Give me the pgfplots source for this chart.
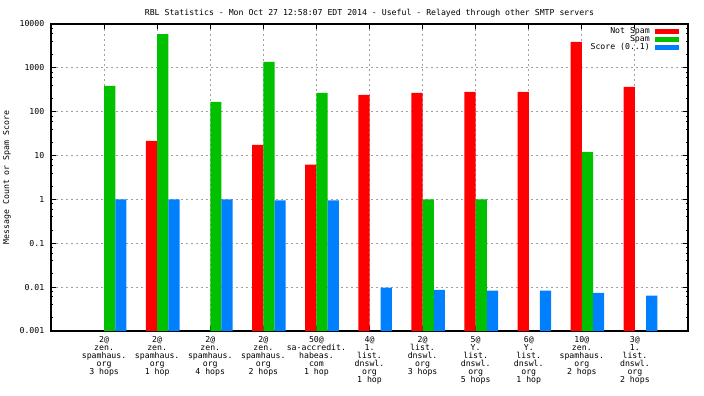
\documentclass[border=0pt]{standalone}
\usepackage{pgfplots}
\pgfplotsset{compat=1.18}
\usepackage{fontspec}
\setmainfont{DejaVu Sans Mono}
\definecolor{nsred}{HTML}{FF0000}
\definecolor{spgreen}{HTML}{00C000}
\definecolor{scblue}{HTML}{0080FF}
\definecolor{gridgray}{HTML}{A0A0A0}
\newcommand{\gfont}{\fontsize{8.2pt}{8pt}\selectfont}
\begin{document}
\begin{tikzpicture}[x=1pt,y=1pt]
\path[use as bounding box] (0,0) rectangle (704,396);
\begin{axis}[
  at={(51pt,65pt)}, anchor=south west, scale only axis,
  width=637pt, height=307pt,
  ymode=log, log origin=infty,
  ymin=0.001, ymax=10000, xmin=-1, xmax=11,
  xtick={0,1,2,3,4,5,6,7,8,9,10},
  xticklabels={
    {2@\\zen.\\spamhaus.\\org\\3 hops},
    {2@\\zen.\\spamhaus.\\org\\1 hop},
    {2@\\zen.\\spamhaus.\\org\\4 hops},
    {2@\\zen.\\spamhaus.\\org\\2 hops},
    {50@\\sa-accredit.\\habeas.\\com\\1 hop},
    {4@\\1.\\list.\\dnswl.\\org\\1 hop},
    {2@\\list.\\dnswl.\\org\\3 hops},
    {5@\\Y.\\list.\\dnswl.\\org\\5 hops},
    {6@\\Y.\\list.\\dnswl.\\org\\1 hop},
    {10@\\zen.\\spamhaus.\\org\\2 hops},
    {3@\\1.\\list.\\dnswl.\\org\\2 hops}},
  ytick={0.001,0.01,0.1,1,10,100,1000,10000},
  yticklabels={0.001,0.01,0.1,1,10,100,1000,10000},
  minor ytick={0.002,0.004,0.006,0.008,0.02,0.04,0.06,0.08,0.2,0.4,0.6,0.8,2,4,6,8,20,40,60,80,200,400,600,800,2000,4000,6000,8000},
  grid=major,
  major grid style={gridgray, dash pattern=on 2pt off 3pt, line width=0.9pt},
  axis line style={line width=1.1pt},
  tick style={black, line width=0.9pt},
  major tick length=5pt, minor tick length=2.5pt,
  tick align=inside,
  /pgf/number format/assume math mode=true,
  ticklabel style={font=\gfont},
  xticklabel style={align=center, inner sep=0pt, yshift=-5.5pt},
  yticklabel style={inner sep=0pt, xshift=-6.5pt},
  title={RBL Statistics - Mon Oct 27 12:58:07 EDT 2014 - Useful - Relayed through other SMTP servers},
  title style={at={(0.5,1)}, anchor=base, yshift=2.5pt, font=\gfont, inner sep=0pt},
  ylabel={Message Count or Spam Score},
  ylabel style={at={(axis description cs:-0.069,0.5)}, anchor=center, font=\gfont, inner sep=0pt},
  legend style={at={(1,1)}, anchor=north east, xshift=-9pt, yshift=-3.5pt, draw=none, fill=none,
    inner sep=0pt, font=\gfont, row sep=0pt, column sep=5pt,
    nodes={inner sep=0pt, text height=6pt, text depth=2pt}},
  legend plot pos=right, legend cell align=right,
  legend image code/.code={\fill[#1,draw=none] (0pt,-2.4pt) rectangle (24pt,2.4pt);},
]
\addplot[ybar, bar width=11.2pt, bar shift=-5.6pt, fill=nsred, draw=none]
  coordinates {(1,21.6) (3,17.5) (4,6.2) (5,241) (6,268) (7,282) (8,282) (9,3900) (10,367)};
\addlegendentry{Not Spam}
\addplot[ybar, bar width=11.2pt, bar shift=5.6pt, fill=spgreen, draw=none]
  coordinates {(0,390) (1,5900) (2,167) (3,1360) (4,268) (6,1) (7,1) (9,12.1)};
\addlegendentry{Spam}
\addplot[ybar, bar width=11.2pt, bar shift=16.8pt, fill=scblue, draw=none]
  coordinates {(0,1) (1,1) (2,1) (3,0.95) (4,0.95) (5,0.0097) (6,0.0087) (7,0.0083) (8,0.0083) (9,0.0074) (10,0.0064)};
\addlegendentry{Score (0..1)}
\end{axis}
\end{tikzpicture}
\end{document}
